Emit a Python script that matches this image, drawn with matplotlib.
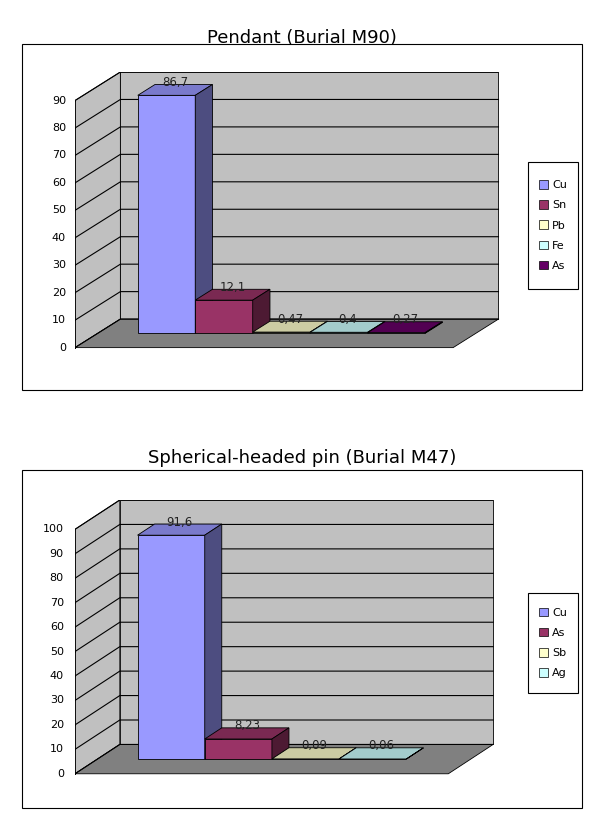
import matplotlib
matplotlib.use('Agg')
import matplotlib.pyplot as plt
from matplotlib.patches import Polygon, Rectangle, Patch
import matplotlib.colors as mcolors

# chart data
top_title = 'Pendant (Burial M90)'
top_elements = ['Cu', 'Sn', 'Pb', 'Fe', 'As']
top_values = [86.7, 12.1, 0.47, 0.4, 0.27]
top_labels = ['86,7', '12,1', '0,47', '0,4', '0,27']
top_colors = ['#9999FF', '#993366', '#FFFFCC', '#CCFFFF', '#660066']

bot_title = 'Spherical-headed pin (Burial M47)'
bot_elements = ['Cu', 'As', 'Sb', 'Ag']
bot_values = [91.6, 8.23, 0.09, 0.06]
bot_labels = ['91,6', '8,23', '0,09', '0,06']
bot_colors = ['#9999FF', '#993366', '#FFFFCC', '#CCFFFF']

W, H = 600, 823
fig = plt.figure(figsize=(6, 8.23), dpi=100)


def shade(c, f):
    r, g, b = mcolors.to_rgb(c)
    return (r * f, g * f, b * f)


def fig_box(x0, y0, x1, y1):
    # pixel coords (top-left origin) -> figure fraction
    fig.patches.append(Rectangle((x0 / W, 1 - y1 / H), (x1 - x0) / W, (y1 - y0) / H,
                                 transform=fig.transFigure, fill=False, ec='black', lw=0.8))


def chart(box, plot_px, title, elements, values, labels, colors, ymax, step,
          depth, bar_start, bar_w, legend_px, title_y):
    fig_box(*box)
    fig.text((box[0] + box[2]) / 2 / W, 1 - title_y / H, title,
             ha='center', va='center', fontsize=13)
    x0, ytop, x1, y0 = plot_px
    ax = fig.add_axes([x0 / W, 1 - y0 / H, (x1 - x0) / W, (y0 - ytop) / H])
    n = len(values)
    dx, dy = depth
    ax.set_xlim(0, n + dx + 0.02)
    ax.set_ylim(-0.5, ymax + dy)
    ax.axis('off')
    wall = '#C0C0C0'
    # left wall, back wall, floor
    ax.add_patch(Polygon([(0, 0), (0, ymax), (dx, ymax + dy), (dx, dy)], fc=wall, ec='black', lw=0.6))
    ax.add_patch(Polygon([(dx, dy), (n + dx, dy), (n + dx, ymax + dy), (dx, ymax + dy)], fc=wall, ec='black', lw=0.6))
    ax.add_patch(Polygon([(0, 0), (n, 0), (n + dx, dy), (dx, dy)], fc='#808080', ec='black', lw=0.6))
    for v in range(0, ymax + 1, step):
        ax.plot([0, dx, n + dx], [v, v + dy, v + dy], color='black', lw=0.8)
        ax.plot([-0.06, 0], [v, v], color='black', lw=0.6)
        ax.text(-0.12, v, str(v), ha='right', va='center', fontsize=8)
    ax.plot([0, 0], [0, ymax], color='black', lw=0.6)
    # bars (pseudo 3D), front plane at half depth
    fx, fy = dx * 0.5, dy * 0.5
    bx, by = dx * 0.38, dy * 0.38
    for i, (v, c) in enumerate(zip(values, colors)):
        xl = bar_start + fx + i * bar_w
        xr = xl + bar_w
        yb, yt = fy, fy + v
        ax.add_patch(Polygon([(xl, yb), (xr, yb), (xr, yt), (xl, yt)], fc=c, ec='black', lw=0.6, zorder=3))
        ax.add_patch(Polygon([(xl, yt), (xr, yt), (xr + bx, yt + by), (xl + bx, yt + by)],
                             fc=shade(c, 0.8), ec='black', lw=0.6, zorder=3))
        ax.add_patch(Polygon([(xr, yb), (xr + bx, yb + by), (xr + bx, yt + by), (xr, yt)],
                             fc=shade(c, 0.5), ec='black', lw=0.6, zorder=3))
        ax.text(xl + bar_w / 2 + bx / 2, yt + by * 0.6, labels[i], ha='center', va='bottom',
                fontsize=8.5, color='#222222', zorder=4)
    handles = [Patch(fc=c, ec='black', lw=0.5, label=e) for e, c in zip(elements, colors)]
    lx0, ly0, lx1, ly1 = legend_px
    fig_box(lx0, ly0, lx1, ly1)
    lax = fig.add_axes([lx0 / W, 1 - ly1 / H, (lx1 - lx0) / W, (ly1 - ly0) / H])
    lax.axis('off')
    lax.legend(handles=handles, loc='center', frameon=False, fontsize=8,
               handlelength=0.8, handleheight=0.8, handletextpad=0.4, labelspacing=0.9)


chart((22, 44, 582, 390), (75, 72, 500, 349), top_title, top_elements, top_values,
      top_labels, top_colors, 90, 10, (0.6, 10.4), 0.53, 0.76, (528, 162, 578, 289), 38)
chart((22, 470, 582, 808), (75, 500, 495, 775), bot_title, bot_elements, bot_values,
      bot_labels, bot_colors, 100, 10, (0.48, 12.0), 0.43, 0.72, (528, 593, 578, 693), 458)

fig.savefig('out.png', dpi=100)
